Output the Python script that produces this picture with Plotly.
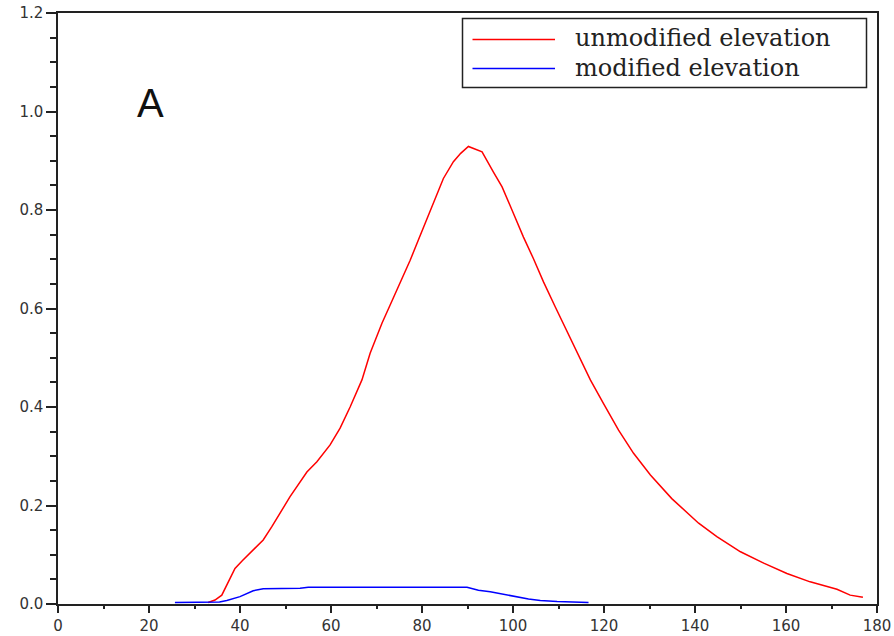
import plotly.graph_objects as go

# Elevation profiles (distance along section vs elevation)
unmod_x = [33, 34.5, 36, 37.5, 38.9, 40.5, 42.2, 45.1, 47, 51, 54.7, 56.9, 59.8, 62,
           64.2, 66.8, 68.6, 71.2, 73, 75.2, 77.4, 79.2, 81.1, 83.3, 84.7, 86.9, 88.5,
           90.2, 93.2, 95.7, 97.6, 100.1, 102.3, 104.5, 106.7, 109.3, 112.6, 115.5,
           117.0, 119.9, 123.2, 126.5, 130.2, 134.9, 140.8, 144.8, 150, 155.1, 160.2,
           165.3, 171.2, 174.1, 176.9]
unmod_y = [0.003, 0.008, 0.018, 0.045, 0.072, 0.088, 0.103, 0.130, 0.157, 0.218, 0.268,
           0.289, 0.323, 0.357, 0.400, 0.455, 0.509, 0.570, 0.607, 0.651, 0.698, 0.739,
           0.783, 0.833, 0.864, 0.898, 0.915, 0.929, 0.918, 0.877, 0.847, 0.793, 0.745,
           0.701, 0.654, 0.603, 0.539, 0.482, 0.455, 0.407, 0.353, 0.306, 0.262, 0.214,
           0.164, 0.137, 0.106, 0.083, 0.062, 0.045, 0.030, 0.018, 0.0135]

mod_x = [25.7, 33.6, 35.5, 37.1, 40.0, 42.9, 45.1, 53.2, 55.0, 89.9, 92.4, 95.0, 98.7,
         103.4, 106.0, 109.7, 116.6]
mod_y = [0.003, 0.003, 0.004, 0.007, 0.015, 0.027, 0.031, 0.032, 0.034, 0.034, 0.028,
         0.025, 0.018, 0.010, 0.007, 0.005, 0.003]

series_names = ["unmodified elevation", "modified elevation"]
series_colors = ["#ff0000", "#0000ff"]

x_ticks = list(range(0, 181, 20))
y_ticks = [0.0, 0.2, 0.4, 0.6, 0.8, 1.0, 1.2]
y_tick_text = ["0.0", "0.2", "0.4", "0.6", "0.8", "1.0", "1.2"]

fig = go.Figure()
fig.add_trace(go.Scatter(x=unmod_x, y=unmod_y, mode="lines", name=series_names[0],
                         line=dict(color=series_colors[0], width=1.5)))
fig.add_trace(go.Scatter(x=mod_x, y=mod_y, mode="lines", name=series_names[1],
                         line=dict(color=series_colors[1], width=1.5)))

axis_color = "#222222"
tick_font = dict(family="DejaVu Sans", size=15, color="#333333")

fig.update_xaxes(range=[0, 180], tickvals=x_ticks, ticks="outside", ticklen=7,
                 tickwidth=1.5, tickcolor=axis_color, showline=True, linecolor=axis_color,
                 linewidth=1.5, mirror=True, showgrid=False, zeroline=False,
                 tickfont=tick_font, automargin=False,
                 minor=dict(dtick=10, ticks="outside", ticklen=3, tickwidth=1.5,
                            tickcolor=axis_color, showgrid=False))
fig.update_yaxes(range=[0, 1.2], tickvals=y_ticks, ticktext=y_tick_text, ticks="outside",
                 ticklen=10, tickwidth=1.5, tickcolor=axis_color, showline=True,
                 linecolor=axis_color, linewidth=1.5, mirror=True, showgrid=False,
                 zeroline=False, tickfont=tick_font, automargin=False,
                 minor=dict(dtick=0.05, ticks="outside", ticklen=6, tickwidth=1.5,
                            tickcolor=axis_color, showgrid=False))

# Boxed legend in the upper right corner of the plot area
W, H = 894, 636
M_L, M_R, M_T, M_B = 58, 17, 13, 32
pw, ph = W - M_L - M_R, H - M_T - M_B


def px(xp):
    return (xp - M_L) / pw


def py(yp):
    return (H - M_B - yp) / ph


shapes = [dict(type="rect", xref="paper", yref="paper", x0=px(462.5), x1=px(866.5),
               y0=py(87.5), y1=py(18.5), line=dict(color="#222222", width=1.5),
               fillcolor="white", layer="above")]
annotations = []
for i, (name, color) in enumerate(zip(series_names, series_colors)):
    yl = 39.5 + 29 * i
    shapes.append(dict(type="line", xref="paper", yref="paper", x0=px(472.5), x1=px(555),
                       y0=py(yl), y1=py(yl), line=dict(color=color, width=1.5),
                       layer="above"))
    annotations.append(dict(text=name, xref="paper", yref="paper", x=px(573), y=py(yl - 1),
                            xanchor="left", yanchor="middle", showarrow=False,
                            font=dict(family="DejaVu Serif", size=24, color="#222222")))

annotations.append(dict(text="A", xref="paper", yref="paper", x=px(150), y=py(102.5),
                        xanchor="center", yanchor="middle", showarrow=False,
                        font=dict(family="Liberation Sans", size=40, color="#111111")))

fig.update_layout(width=W, height=H, margin=dict(l=M_L, r=M_R, t=M_T, b=M_B),
                  paper_bgcolor="white", plot_bgcolor="white", showlegend=False,
                  shapes=shapes, annotations=annotations)

fig.write_html("out.html")
